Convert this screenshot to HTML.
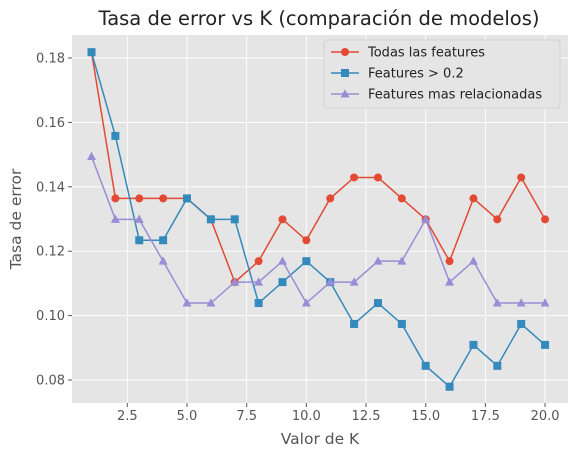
<!DOCTYPE html>
<html><head><meta charset="utf-8"><style>
body{margin:0;background:#fff;}
svg{display:block;font-family:"DejaVu Sans","Liberation Sans",sans-serif;}
</style></head><body>
<svg id="chart" width="577" height="458"></svg>
<script>
const kValues=[1,2,3,4,5,6,7,8,9,10,11,12,13,14,15,16,17,18,19,20];
const allFeatures=[0.1818,0.1364,0.1364,0.1364,0.1364,0.1299,0.1104,0.1169,0.1299,0.1234,0.1364,0.1429,0.1429,0.1364,0.1299,0.1169,0.1364,0.1299,0.1429,0.1299];
const featuresGt02=[0.1818,0.1558,0.1234,0.1234,0.1364,0.1299,0.1299,0.1039,0.1104,0.1169,0.1104,0.0974,0.1039,0.0974,0.0844,0.0779,0.0909,0.0844,0.0974,0.0909];
const topFeatures=[0.1494,0.1299,0.1299,0.1169,0.1039,0.1039,0.1104,0.1104,0.1169,0.1039,0.1104,0.1104,0.1169,0.1169,0.1299,0.1104,0.1169,0.1039,0.1039,0.1039];
const xTicks=[2.5,5.0,7.5,10.0,12.5,15.0,17.5,20.0];
const yTicks=[0.08,0.10,0.12,0.14,0.16,0.18];
const seriesNames=["Todas las features","Features > 0.2","Features mas relacionadas"];

const NS="http://www.w3.org/2000/svg";
const svg=document.getElementById('chart');
const L=72,R=568,T=35,B=403;
const xs=v=>187+(v-5)*23.87;
const ys=v=>58+(0.18-v)*3220;
function el(tag,attrs,parent){const e=document.createElementNS(NS,tag);for(const k in attrs)e.setAttribute(k,attrs[k]);(parent||svg).appendChild(e);return e;}

let bg=el('rect',{x:L,y:T,width:R-L,height:B-T,fill:'#E5E5E5'});


xTicks.forEach(t=>{
  const x=xs(t);
  let g=el('line',{x1:x,x2:x,y1:T,y2:B,stroke:'#fff','stroke-width':0.9});
  
  
  el('line',{x1:x,x2:x,y1:B,y2:B+4,stroke:'#555'});
  let tx=el('text',{x:x,y:B+17,'text-anchor':'middle','font-size':13,fill:'#555'});
  tx.textContent=t.toFixed(1);
  
  
});
yTicks.forEach(t=>{
  const y=ys(t);
  let g=el('line',{x1:L,x2:R,y1:y,y2:y,stroke:'#fff','stroke-width':0.9});
  
  
  el('line',{x1:L-4,x2:L,y1:y,y2:y,stroke:'#555'});
  let tx=el('text',{x:L-7,y:y+4.5,'text-anchor':'end','font-size':13,fill:'#555'});
  tx.textContent=t.toFixed(2);
  
  
});
const colors=['#E24A33','#348ABD','#988ED5'];
const datasets=[allFeatures,featuresGt02,topFeatures];
function marker(type,x,y,c,parent){
  if(type===0)return el('circle',{cx:x,cy:y,r:4,fill:c},parent);
  if(type===1)return el('rect',{x:x-4,y:y-4,width:8,height:8,fill:c},parent);
  return el('polygon',{points:`${x},${y-4.8} ${x+4.5},${y+3.5} ${x-4.5},${y+3.5}`,fill:c},parent);
}
datasets.forEach((d,i)=>{
  const g=el('g',{});
  
  
  el('polyline',{points:d.map((v,j)=>xs(kValues[j])+','+ys(v)).join(' '),fill:'none',stroke:colors[i],'stroke-width':1.5},g);
  d.forEach((v,j)=>{
    const m=marker(i,xs(kValues[j]),ys(v),colors[i],g);
    
    
  });
});
const lg=el('g',{});


el('rect',{x:324,y:40,width:236,height:68,rx:3,fill:'#E5E5E5',stroke:'#ccc','stroke-width':0.8},lg);
seriesNames.forEach((n,i)=>{
  const y=52+i*21;
  el('line',{x1:331,x2:359,y1:y,y2:y,stroke:colors[i],'stroke-width':1.5},lg);
  marker(i,345,y,colors[i],lg);
  const t=el('text',{x:368,y:y+4.5,'font-size':13,fill:'#222'},lg);
  t.textContent=n;
  
  
});
let title=el('text',{x:319,y:25,'text-anchor':'middle','font-size':19.5,fill:'#222'});
title.textContent='Tasa de error vs K (comparación de modelos)';


let xl=el('text',{x:320,y:444,'text-anchor':'middle','font-size':15.5,fill:'#555'});
xl.textContent='Valor de K';


let yl=el('text',{x:21,y:219,'text-anchor':'middle','font-size':15.5,fill:'#555',transform:'rotate(-90 21 219)'});
yl.textContent='Tasa de error';


</script>
</body></html>
